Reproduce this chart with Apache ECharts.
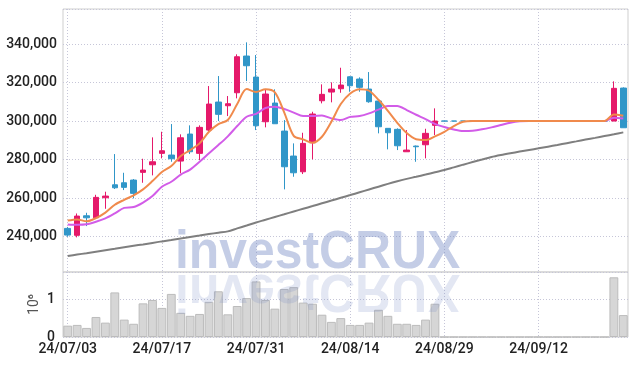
<!DOCTYPE html>
<html>
<head>
<meta charset="utf-8">
<script src="https://cdn.jsdelivr.net/npm/echarts@6/dist/echarts.min.js"></script>
<style>
html,body{margin:0;padding:0;background:#fff;}
#chart{width:637px;height:366px;}
</style>
</head>
<body>
<div id="chart"></div>
<script>
const dates = ['24/07/03','24/07/04','24/07/05','24/07/08','24/07/09','24/07/10','24/07/11','24/07/12','24/07/15','24/07/16',
'24/07/17','24/07/18','24/07/19','24/07/22','24/07/23','24/07/24','24/07/25','24/07/26','24/07/29','24/07/30',
'24/07/31','24/08/01','24/08/02','24/08/05','24/08/06','24/08/07','24/08/08','24/08/09','24/08/12','24/08/13',
'24/08/14','24/08/16','24/08/19','24/08/20','24/08/21','24/08/22','24/08/23','24/08/26','24/08/27','24/08/28',
'24/08/29','24/08/30','24/09/02','24/09/03','24/09/04','24/09/05','24/09/06','24/09/09','24/09/10','24/09/11',
'24/09/12','24/09/13','24/09/19','24/09/20','24/09/23','24/09/24','24/09/25','24/09/26','24/09/27','24/09/30'];

const opens = [244250,240650,250800,249760,260150,266900,267950,269350,273350,277300,
283220,282340,279220,293250,283220,295320,309870,307950,314700,333770,
322860,299640,309350,294800,281820,273660,288730,310540,315060,316780,
323010,321820,316620,310390,296210,295690,284050,287010,287690,297770,
300000,300000,300000,300000,300000,300000,300000,300000,300000,300000,
300000,300000,300000,300000,300000,300000,300000,300000,300000,317140];

const closes = [240780,250650,249760,260360,261040,265350,265560,262440,274540,278850,
284570,280410,291320,284050,296720,308830,303480,308990,333400,328730,
297560,314030,298600,276260,273140,288410,303640,313870,316620,318700,
318340,317510,310030,297040,293920,287170,284930,286650,293610,300000,
300000,300000,300000,300000,300000,300000,300000,300000,300000,300000,
300000,300000,300000,300000,300000,300000,300000,300000,316990,296520];

const lows = [239900,239600,245450,249600,254440,264700,264150,259840,267950,271790,
280620,278850,272830,282860,279740,294440,300000,302600,311790,320780,
295320,296730,298600,264520,271060,272470,280100,309190,309710,314700,
315220,315220,309500,293610,285300,284930,284050,278850,280620,292730,
300000,300000,300000,300000,300000,300000,300000,300000,300000,300000,
300000,300000,300000,300000,300000,300000,300000,300000,300000,296520];

const highs = [245000,252000,252360,261700,263300,282850,273140,269870,280410,291530,
294440,298440,293090,297770,297770,318180,323380,312990,334650,340880,
334290,316470,316470,300520,288410,293920,304830,319060,320100,327690,
323300,322700,325450,310390,296210,296210,295320,287300,296000,306600,
300000,300000,300000,300000,300000,300000,300000,300000,300000,300000,
300000,300000,300000,300000,300000,300000,300000,300000,320620,317500];

const ma5 = [248310,248930,247940,249610,252460,256520,259110,261400,264520,268830,
273500,276620,281820,284930,288410,294440,298440,300520,308830,316620,
315060,316520,314910,304410,292310,290490,288730,291840,299630,308830,
314290,316520,315740,311060,305300,299060,293760,290540,290130,292050,
294440,297400,299640,300000,300000,300000,300000,300000,300000,300000,
300000,300000,300000,300000,300000,300000,300000,300000,303400,302700];

const ma10 = [246330,246130,246390,247690,249450,252050,254910,255320,257660,261040,
265870,268460,272200,274800,278850,283220,287530,292050,297400,302230,
303740,306750,307430,306230,304410,302600,302600,302860,301400,300520,
302180,302600,304000,305970,307790,307790,305710,303270,301040,298540,
296880,295580,294800,294960,295690,296730,297920,299120,299840,300000,
300000,300000,300000,300000,300000,300000,300000,300000,301700,301350];

const ma60 = [229870,230650,231370,232150,232930,233660,234440,235220,235940,236720,
237500,238230,239010,239790,240520,241300,242020,242700,244260,245760,
247320,248720,250180,251580,253040,254440,255840,257300,258700,260150,
261560,263010,264460,265920,267370,268720,269970,271060,272210,273400,
274540,275950,277350,278700,280000,281300,282340,283270,284150,284990,
285820,286700,287580,288520,289450,290390,291270,292210,293140,294130];

const volumes = [300000,320000,240000,530000,380000,1180000,460000,350000,890000,980000,
770000,1140000,640000,560000,610000,930000,1210000,600000,820000,1030000,
1470000,980000,750000,1270000,1320000,910000,880000,590000,400000,500000,
320000,320000,380000,720000,560000,350000,350000,320000,460000,880000,
0,0,0,0,0,0,0,0,0,0,
0,0,0,0,0,0,0,0,1580000,580000];

const UP = '#e5196a', DOWN = '#3096c8';
const FONT = 'Roboto, "Liberation Sans", sans-serif';
const GRIDC = '#c6c6d8';
const LABEL = { fontSize: 14, fontWeight: 500, fontFamily: FONT, color: '#222' };

const candleData = dates.map((d, i) => {
  const item = { value: [opens[i], closes[i], lows[i], highs[i]] };
  if (opens[i] === closes[i]) {
    item.itemStyle = { color: DOWN, color0: DOWN, borderColor: DOWN, borderColor0: DOWN };
  }
  return item;
});

const splitX = { show: true, interval: 9, alignWithLabel: true, lineStyle: { color: GRIDC, type: [1, 2], width: 1 } };

const chart = echarts.init(document.getElementById('chart'), null, { renderer: 'canvas' });
chart.setOption({
  animation: false,
  backgroundColor: '#fff',
  grid: [
    { left: 63, right: 9, top: 9, height: 263, show: true, borderColor: '#cfcfcf', borderWidth: 1, outerBoundsMode: 'none', containLabel: false },
    { left: 63, right: 9, top: 272, height: 65, show: true, borderColor: '#cfcfcf', borderWidth: 1, outerBoundsMode: 'none', containLabel: false }
  ],
  xAxis: [
    { type: 'category', gridIndex: 0, data: dates, boundaryGap: true,
      axisLine: { show: false }, axisTick: { show: false, interval: 9, alignWithLabel: true },
      axisLabel: { show: false, interval: 9 }, splitLine: splitX },
    { type: 'category', gridIndex: 1, data: dates, boundaryGap: true,
      axisLine: { show: false }, axisTick: { show: false, interval: 9, alignWithLabel: true },
      axisLabel: Object.assign({ show: true, interval: 9, margin: 5 }, LABEL),
      splitLine: splitX }
  ],
  yAxis: [
    { type: 'value', gridIndex: 0, min: 221600, max: 358200, splitNumber: 7,
      axisLine: { show: false }, axisTick: { show: false },
      axisLabel: Object.assign({ showMinLabel: false, showMaxLabel: false, margin: 6,
        formatter: v => v.toLocaleString('en-US') }, LABEL),
      splitLine: { show: true, lineStyle: { color: GRIDC, type: [1, 2] } } },
    { type: 'value', gridIndex: 1, min: 0, max: 1720000, interval: 1000000,
      axisLine: { show: false }, axisTick: { show: false },
      axisLabel: Object.assign({ showMaxLabel: false, margin: 8,
        formatter: v => String(v / 1000000) }, LABEL),
      splitLine: { show: true, lineStyle: { color: GRIDC, type: [1, 2] } },
      name: '10\u2076', nameLocation: 'middle', nameRotate: 90, nameGap: 22, nameMoveOverlap: false,
      nameTextStyle: { fontSize: 14, fontFamily: FONT, color: '#555' } }
  ],
  series: [
    { type: 'candlestick', xAxisIndex: 0, yAxisIndex: 0, data: candleData, barWidth: 6,
      itemStyle: { color: UP, color0: DOWN, borderColor: UP, borderColor0: DOWN, borderWidth: 1 } },
    { type: 'line', xAxisIndex: 0, yAxisIndex: 0, data: ma60, symbol: 'none', smooth: 0.3,
      lineStyle: { color: '#7f7f7f', width: 2 } },
    { type: 'line', xAxisIndex: 0, yAxisIndex: 0, data: ma10, symbol: 'none', smooth: 0.3,
      lineStyle: { color: '#d25ce8', width: 2 } },
    { type: 'line', xAxisIndex: 0, yAxisIndex: 0, data: ma5, symbol: 'none', smooth: 0.3,
      lineStyle: { color: '#f08a4c', width: 2 } },
    { type: 'bar', xAxisIndex: 1, yAxisIndex: 1, data: volumes, barCategoryGap: '6%',
      itemStyle: { color: '#d6d6d6', borderColor: '#bcbcbc', borderWidth: 1 } }
  ],
  graphic: [
    { type: 'text', x: 175, y: 253.3, z: 100, scaleX: 0.94, originX: 0, originY: 0, silent: true,
      style: { text: 'investCRUX', font: 'bold 53px "Liberation Sans", sans-serif',
        fill: 'rgba(115,135,195,0.42)', align: 'left', verticalAlign: 'middle' } },
    { type: 'text', x: 175, y: 253.3, z: 100, scaleX: 0.94, scaleY: -1, originX: 0, originY: 18.4, silent: true,
      style: { text: 'investCRUX', font: 'bold 53px "Liberation Sans", sans-serif',
        fill: 'rgba(115,135,195,0.2)', align: 'left', verticalAlign: 'middle' } }
  ]
});
</script>
</body>
</html>
